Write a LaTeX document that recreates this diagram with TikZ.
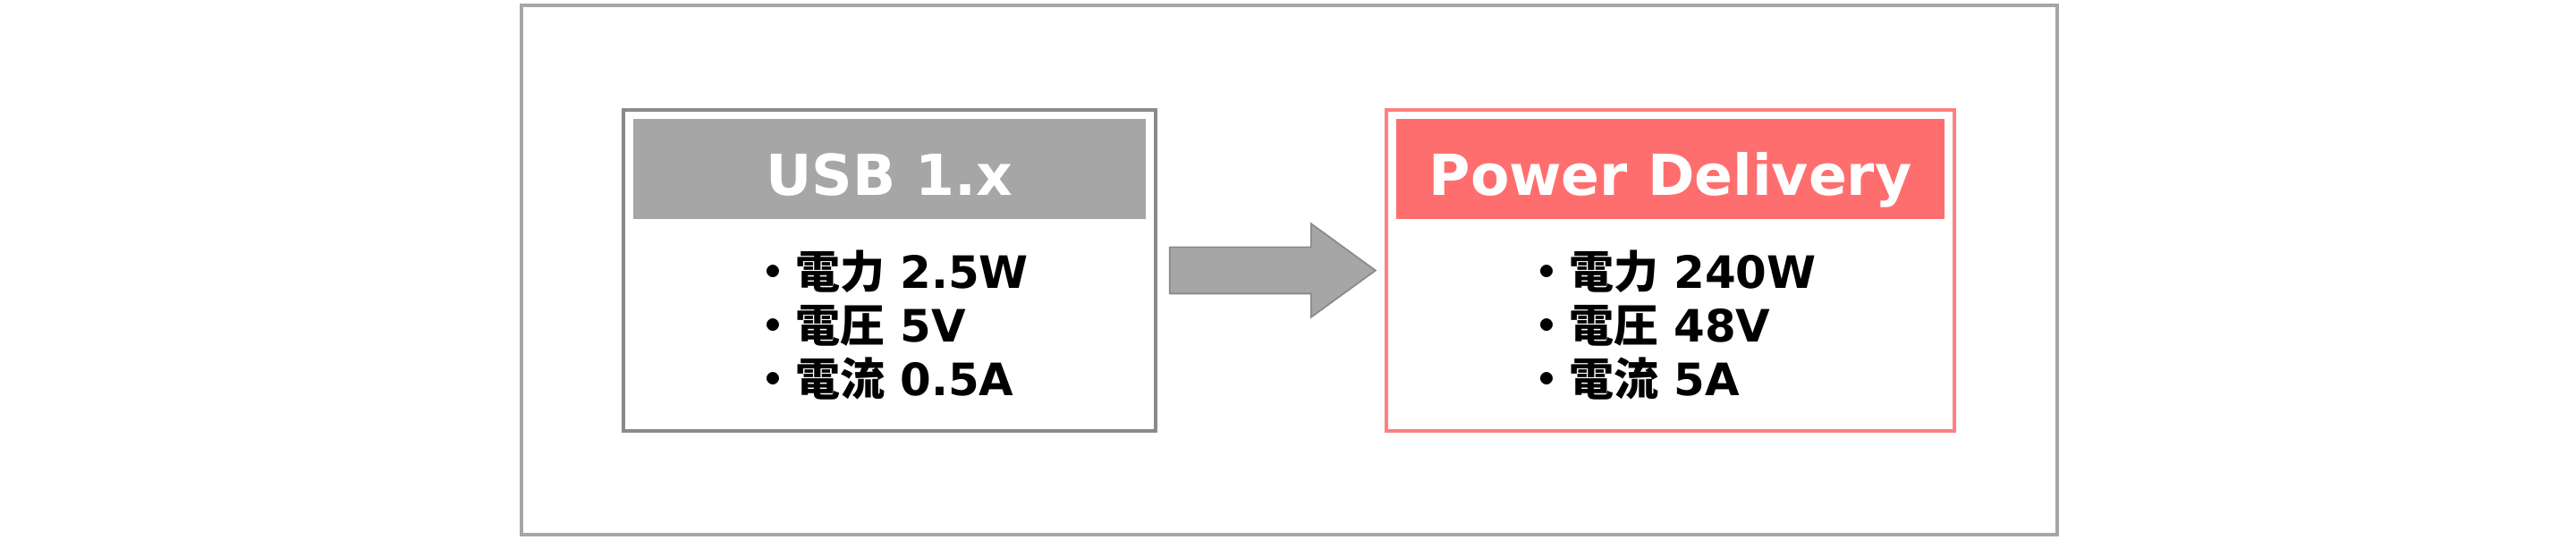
\documentclass[tikz,border=0pt]{standalone}
\usepackage{fontspec}
\setmainfont{DejaVu Sans}
\newfontfamily\jp{Noto Sans CJK JP}
\usetikzlibrary{calc,positioning,shapes.arrows}
\definecolor{frame}{HTML}{A6A6A6}
\definecolor{oldline}{HTML}{8A8A8A}
\definecolor{oldhead}{HTML}{A6A6A6}
\definecolor{newline}{HTML}{FF7F80}
\definecolor{newhead}{HTML}{FF6E6E}
\definecolor{shaft}{HTML}{A6A6A6}
\tikzset{
 specbox/.style={draw=#1,line width=1.2pt,minimum height=3.59cm,inner sep=0pt},
 headbar/.style={fill=#1,minimum height=1.12cm,inner sep=0pt,text height=0.6cm,text depth=0pt,text=white,font=\fontsize{18}{20}\selectfont\bfseries},
 speclist/.style={align=left,inner sep=0pt,font=\fontsize{14.2}{17.07}\selectfont\bfseries}
}
\begin{document}
\begin{tikzpicture}[x=1cm,y=1cm]
\useasboundingbox (0,0) rectangle (28.8,6.03);
\draw[frame,line width=1.1pt] (5.83,0.05) rectangle (23.00,5.97);
% one box per generation: frame, title bar, three figures
\foreach \name/\cx/\w/\ln/\hd/\title/\p/\v/\i in {usb/9.945/5.95/oldline/oldhead/USB 1.x/2.5W/5V/0.5A,pd/18.675/6.35/newline/newhead/Power Delivery/240W/48V/5A} {
 \node[specbox=\ln,minimum width=\w cm] (\name) at (\cx,3.005) {};
 \node[headbar=\hd,minimum width=\w cm-0.22cm] (\name-head) at (\cx,4.14) {\title};
 \node[speclist] (\name-list) at (\cx,2.39) {{\jp ・電力} \p\\{\jp ・電圧} \v\\{\jp ・電流} \i};
}
\node[single arrow,fill=shaft,draw=oldline,line width=0.5pt,inner sep=0pt,inner ysep=0.25cm,minimum height=2.30cm,single arrow head extend=0.265cm,single arrow tip angle=72] (step-arrow) at ($(usb.east)!0.5!(pd.west)+(-0.16,0)$) {};
\end{tikzpicture}
\end{document}
